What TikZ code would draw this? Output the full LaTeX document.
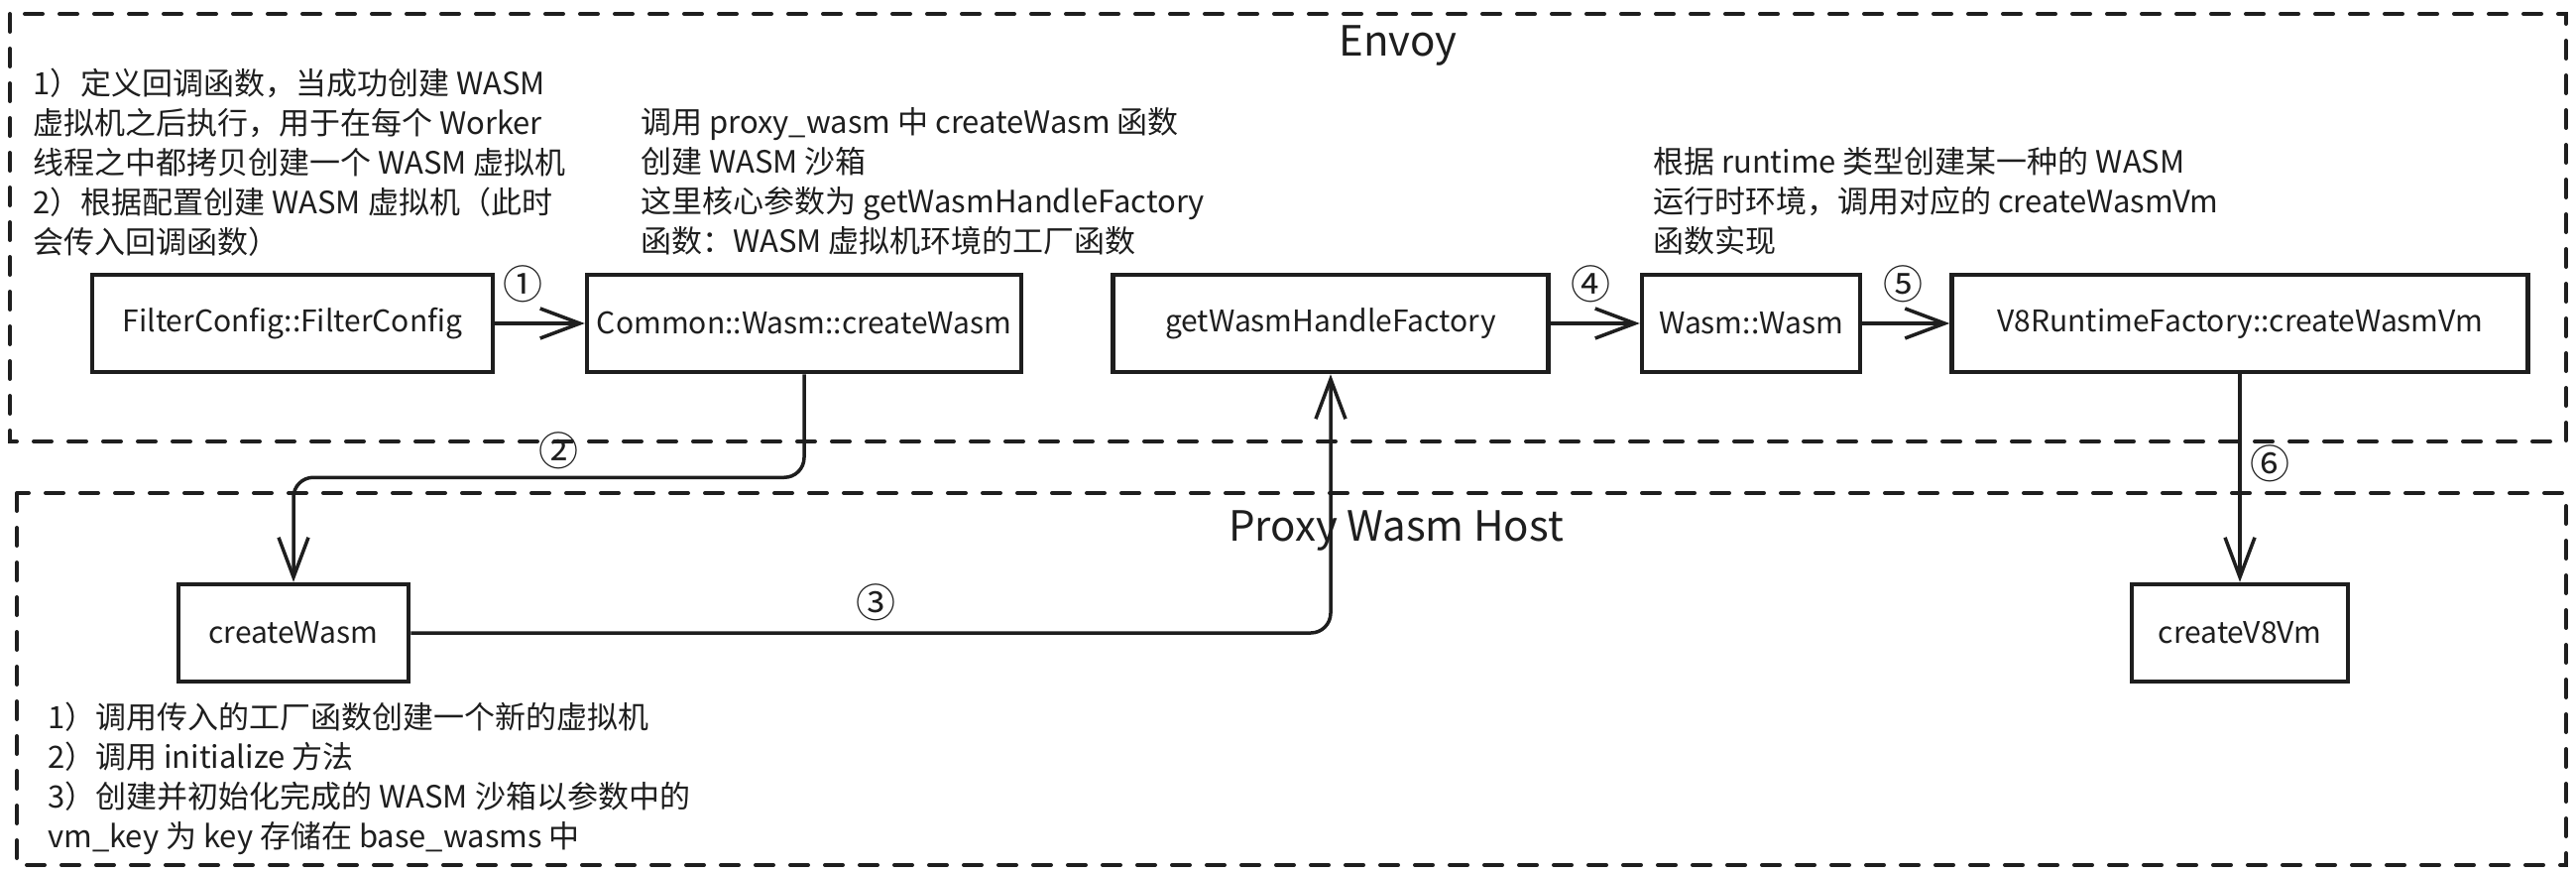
\documentclass[tikz,border=0pt]{standalone}
\usepackage{fontspec}
\setmainfont{Noto Sans CJK SC}
\usepackage{tikz}
\usetikzlibrary{arrows.meta}
\usepackage{xcolor}
\definecolor{ink}{HTML}{1E1E1E}
\tikzstyle{arrow} = [draw=ink,line width=3.5pt,-{Straight Barb[length=40pt,width=30pt]}]

\begin{document}
\begin{tikzpicture}
        [
            x=1pt, y=-1pt,
            box/.style={rectangle,draw=ink,line width=4.5pt,fill=white,minimum height=98pt,text=ink,font=\fontsize{30}{36}\selectfont},
            frame/.style={draw=ink,line width=4pt,dash pattern=on 18pt off 17pt,line cap=round},
            title/.style={text=ink,font=\fontsize{42}{50}\selectfont},
            note/.style={anchor=north west,inner sep=0pt,align=left,text=ink,font=\fontsize{31}{40}\selectfont},
            num/.style={inner sep=0pt,text=ink,font=\fontsize{40}{40}\selectfont},
        ]
    \fill[white] (0,0) rectangle (2598,880);
    \useasboundingbox (0,0) rectangle (2598,880);

    % the two dashed regions
    \draw[frame] (10,14) rectangle (2588,445);
    \draw[frame] (17,497) rectangle (2588,872);
    \node[title] (envoy) at (1410,46) {Envoy};
    \node[title] (host) at (1408,535) {Proxy Wasm Host};

    % call chain on the envoy side
    \foreach \bname/\bx/\bw/\btext in {filter/295/404/FilterConfig::FilterConfig, common/811/438/Common::Wasm::createWasm, factory/1342/439/getWasmHandleFactory, wasm/1766/220/Wasm::Wasm, v8rt/2259/581/V8RuntimeFactory::createWasmVm}
        \node[box,minimum width=\bw pt] (\bname) at (\bx,326) {\btext};

    % host side
    \node[box,minimum width=232pt] (hostcw) at (296,638) {createWasm};
    \node[box,minimum width=218pt] (v8vm) at (2259,638) {createV8Vm};

    % notes
    \node[note] (cbnote) at (33,69) {1）定义回调函数，当成功创建 WASM\\
        虚拟机之后执行，用于在每个 Worker\\
        线程之中都拷贝创建一个 WASM 虚拟机\\
        2）根据配置创建 WASM 虚拟机（此时\\
        会传入回调函数）};
    \node[note] (sandboxnote) at (646,108) {调用 proxy\_wasm 中 createWasm 函数\\
        创建 WASM 沙箱\\
        这里核心参数为 getWasmHandleFactory\\
        函数：WASM 虚拟机环境的工厂函数};
    \node[note] (runtimenote) at (1667,148) {根据 runtime 类型创建某一种的 WASM\\
        运行时环境，调用对应的 createWasmVm\\
        函数实现};
    \node[note] (hostnote) at (48,708) {1）调用传入的工厂函数创建一个新的虚拟机\\
        2）调用 initialize 方法\\
        3）创建并初始化完成的 WASM 沙箱以参数中的\\
        vm\_key 为 key 存储在 base\_wasms 中};

    % numbered calls
    \draw[arrow] (filter) -- node[num,pos=0.31,above=19pt] (s1) {①} (common);
    \draw[arrow,rounded corners=20pt] (common.south) -- ++(0,104) -| node[num,pos=0.24,above=7pt] (s2) {②} (hostcw.north);
    \draw[arrow,rounded corners=20pt] (hostcw.east) -| node[num,pos=0.253,above=10pt] (s3) {③} (factory.south);
    \draw[arrow] (factory) -- node[num,pos=0.45,above=19pt] (s4) {④} (wasm);
    \draw[arrow] (wasm) -- node[num,pos=0.47,above=19pt] (s5) {⑤} (v8rt);
    \draw[arrow] (v8rt.south) -- node[num,pos=0.43,right=9pt] (s6) {⑥} (v8vm.north);
\end{tikzpicture}
\end{document}
